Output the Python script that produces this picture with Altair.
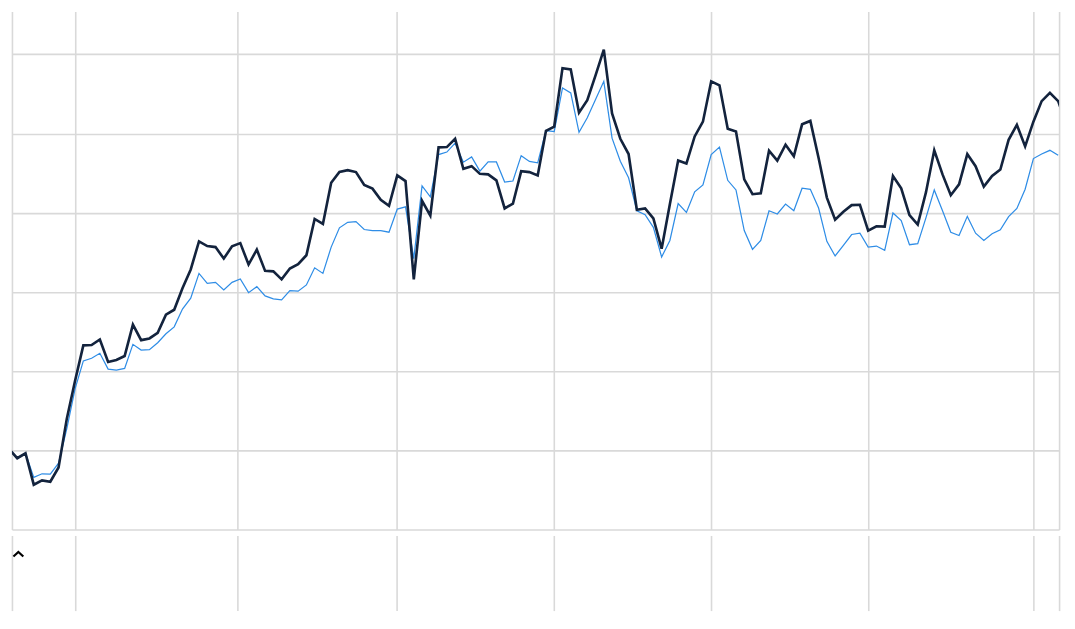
import altair as alt
import pandas as pd

# Weekly index of the two series (no labels shown on the original chart)
dark = [30.16, 29.0, 29.63, 25.66, 26.21, 26.04, 27.84, 34.0, 38.79, 43.25,
        43.29, 44.0, 41.16, 41.41, 41.91, 45.88, 43.91, 44.13, 44.84, 47.13,
        47.75, 50.46, 52.84, 56.38, 55.79, 55.66, 54.21, 55.75, 56.16, 53.46,
        55.34, 52.66, 52.6, 51.59, 52.96, 53.5, 54.63, 59.21, 58.59, 63.79,
        65.16, 65.38, 65.13, 63.5, 63.04, 61.63, 60.88, 64.71, 64.0, 51.59,
        61.5, 59.63, 68.25, 68.29, 69.34, 65.54, 65.88, 64.91, 64.84, 64.09,
        60.54, 61.16, 65.25, 65.13, 64.71, 70.34, 70.88, 78.25, 78.09, 72.63,
        74.21, 77.34, 80.59, 72.54, 69.34, 67.41, 60.38, 60.54, 59.29, 55.46,
        61.09, 66.59, 66.21, 69.63, 71.5, 76.59, 76.09, 70.59, 70.25, 64.21,
        62.34, 62.46, 67.84, 66.59, 68.59, 67.13, 71.16, 71.59, 66.91, 61.91,
        59.13, 60.13, 60.96, 61.0, 57.75, 58.29, 58.25, 64.63, 63.09, 59.71,
        58.5, 62.6, 67.88, 64.84, 62.21, 63.59, 67.41, 65.88, 63.29, 64.63,
        65.46, 69.21, 71.09, 68.38, 71.5, 74.09, 75.13, 74.09, 71.13]

blue = [30.16, 29.0, 29.63, 26.59, 27.04, 27.0, 28.38, 32.75, 37.75, 41.29,
        41.63, 42.25, 40.25, 40.13, 40.34, 43.38, 42.66, 42.71, 43.59, 44.71,
        45.59, 47.84, 49.21, 52.34, 51.09, 51.21, 50.25, 51.21, 51.63, 49.91,
        50.66, 49.5, 49.13, 49.0, 50.16, 50.09, 50.88, 53.04, 52.34, 55.66,
        58.09, 58.79, 58.88, 57.88, 57.75, 57.75, 57.54, 60.46, 60.75, 54.21,
        63.38, 62.0, 67.34, 67.66, 68.79, 66.38, 67.04, 65.25, 66.41, 66.41,
        63.88, 64.0, 67.21, 66.48, 66.29, 70.38, 70.25, 75.75, 75.13, 70.16,
        72.0, 74.29, 76.59, 69.41, 66.5, 64.41, 60.25, 59.75, 58.16, 54.41,
        56.5, 61.16, 60.04, 62.63, 63.5, 67.34, 68.29, 64.09, 62.88, 57.75,
        55.38, 56.5, 60.25, 59.84, 61.09, 60.25, 63.09, 62.96, 60.59, 56.38,
        54.54, 55.88, 57.25, 57.41, 55.66, 55.79, 55.25, 59.96, 59.0, 55.96,
        56.09, 59.38, 62.88, 60.25, 57.54, 57.13, 59.54, 57.41, 56.5, 57.34,
        57.84, 59.5, 60.54, 62.96, 66.84, 67.41, 67.88, 67.25]

# Unlabelled grid positions (in the index / value units of the data)
x_grid = [0.36, 8.02, 27.65, 46.92, 65.95, 84.98, 104.01, 124.0, 127.08]
y_grid = [20, 30, 40, 50, 60, 70, 80]

df_dark = pd.DataFrame({"idx": list(range(len(dark))), "value": dark})
df_blue = pd.DataFrame({"idx": list(range(len(blue))), "value": blue})

x_scale = alt.Scale(domain=[0.36, 127.11], nice=False, zero=False)
y_scale = alt.Scale(domain=[20, 85.42], nice=False, zero=False)

grid_axis = dict(grid=True, labels=False, ticks=False, domain=False, title=None)
x_enc = alt.X("idx:Q", scale=x_scale, axis=alt.Axis(values=x_grid, **grid_axis))
y_enc = alt.Y("value:Q", scale=y_scale, axis=alt.Axis(values=y_grid, **grid_axis))

blue_line = alt.Chart(df_blue).mark_line(
    color="#2f8de6", strokeWidth=1.25, clip=True
).encode(x=x_enc, y=y_enc)

dark_line = alt.Chart(df_dark).mark_line(
    color="#13233d", strokeWidth=2.65, clip=True
).encode(x=x_enc, y=y_enc)

top = alt.layer(blue_line, dark_line).properties(width=1059, height=524)

ghost = alt.Chart(df_dark).mark_line(opacity=0).encode(
    x=x_enc,
    y=alt.Y("value:Q", scale=y_scale, axis=None),
)
caret = alt.Chart(pd.DataFrame({"k": [0]})).mark_point(
    shape="M-1,0.45L0,-0.45L1,0.45",
    filled=False,
    stroke="#000000",
    strokeWidth=2.2,
    size=100,
    opacity=1,
).encode(x=alt.value(6.5), y=alt.value(19))

bottom = alt.layer(ghost, caret).properties(width=1059, height=76)

chart = (
    alt.vconcat(top, bottom, spacing=6)
    .properties(padding=0)
    .configure_view(stroke=None)
    .configure_axis(gridColor="#d9d9d9", gridWidth=1.6, gridOpacity=1)
)

chart.save("out.html", embed_options={"renderer": "svg", "actions": False})
